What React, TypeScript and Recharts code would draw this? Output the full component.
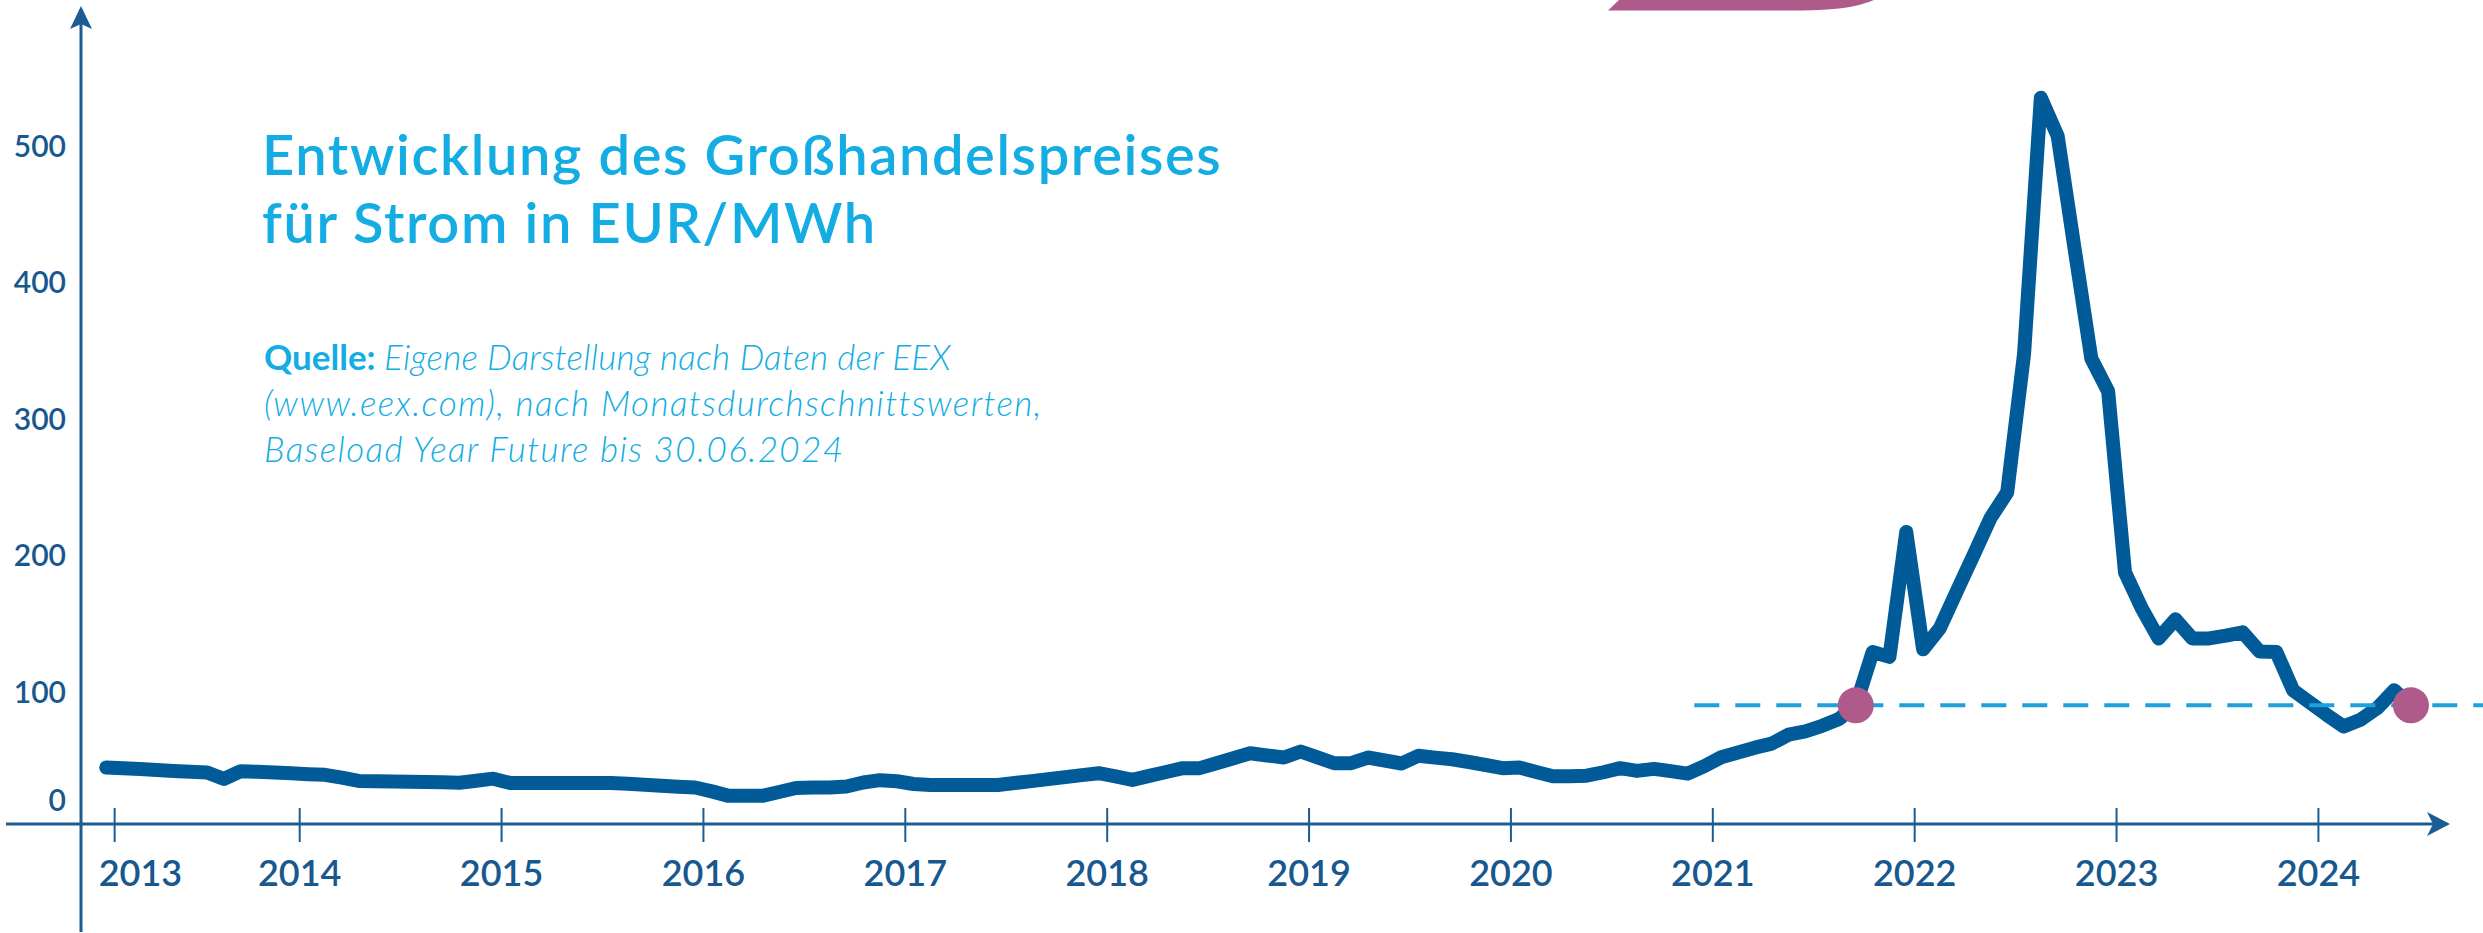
import React from "react";
import { LineChart, Line, XAxis, YAxis, ReferenceLine, ReferenceDot } from "recharts";

// Baseload Year Future, Monatsdurchschnitte in EUR/MWh (Jan 2013 – Jun 2024)
const prices2013 = [44.5, 43.9, 43.3, 42.6, 42.0, 41.4, 40.8, 36.1, 41.8, 41.3, 40.8, 40.3];
const prices2014 = [39.6, 39.1, 37.0, 34.6, 34.4, 34.2, 34.0, 33.8, 33.6, 33.3, 34.8, 36.3];
const prices2015 = [33.2, 33.2, 33.2, 33.2, 33.2, 33.2, 33.2, 32.5, 31.8, 31.1, 30.4, 29.8];
const prices2016 = [27.0, 23.7, 23.7, 23.7, 26.5, 29.5, 29.8, 29.8, 30.6, 33.5, 35.2, 34.4];
const prices2017 = [32.4, 31.7, 31.7, 31.7, 31.7, 31.7, 33.1, 34.5, 36.0, 37.4, 38.9, 40.3];
const prices2018 = [38.0, 35.4, 38.3, 41.2, 44.0, 44.0, 47.6, 51.3, 54.9, 53.3, 51.8, 56.2];
const prices2019 = [51.9, 47.6, 47.6, 51.8, 49.6, 47.4, 53.1, 51.7, 50.5, 48.5, 46.3, 44.0];
const prices2020 = [44.5, 41.2, 38.0, 38.0, 38.5, 41.0, 44.0, 42.0, 43.5, 41.8, 40.0, 45.5];
const prices2021 = [52.0, 55.5, 59.0, 62.0, 68.5, 71.0, 75.0, 80.0, 90.0, 129.0, 125.5, 217.0];
const prices2022 = [131.0, 146.5, 173.5, 200.0, 227.0, 246.0, 347.0, 535.0, 507.0, 425.0, 344.0, 320.0];
const prices2023 = [187.5, 161.0, 139.0, 153.0, 139.0, 139.0, 141.0, 143.5, 129.5, 129.0, 101.0, 92.0];
const prices2024 = [83.0, 74.5, 79.5, 88.0, 101.0, 90.0];

const prices = [
  ...prices2013, ...prices2014, ...prices2015, ...prices2016,
  ...prices2017, ...prices2018, ...prices2019, ...prices2020,
  ...prices2021, ...prices2022, ...prices2023, ...prices2024,
];

// x = Monate seit Jan 2013, Punkte jeweils in Monatsmitte
const rows = prices.map((price, i) => ({ m: i + 0.5, price }));

const yearLabels = ["2013", "2014", "2015", "2016", "2017", "2018", "2019", "2020", "2021", "2022", "2023", "2024"];
const yearTicks = [1, 12, 24, 36, 48, 60, 72, 84, 96, 108, 120, 132];
const valueTicks = [0, 100, 200, 300, 400, 500];

const markerIdx = [104, 137]; // Sep 2021, Jun 2024
const thresholdValue = 90;
const thresholdFrom = 94.9;
const thresholdTo = 141.8;

const W = 2483;
const H = 933;
const PLOT_LEFT = 81;
const AXIS_Y = 824;

const NAVY = "#005b98";
const AXIS = "#1b5d93";
const LABEL = "#17588e";
const CYAN = "#13ade3";
const DASH = "#1ea0da";
const PINK = "#ae5a8b";
const FONT = "Lato, 'Open Sans', sans-serif";

function YearTick(props: any) {
  const { x, payload } = props;
  const i = yearTicks.indexOf(payload.value);
  const first = i === 0;
  return (
    <g>
      <line x1={x} x2={x} y1={AXIS_Y - 16} y2={AXIS_Y + 18} stroke={AXIS} strokeWidth={2} />
      <text
        x={first ? x - 16 : x}
        y={886}
        textAnchor={first ? "start" : "middle"}
        fontFamily={FONT}
        fontWeight={600}
        fontSize={36}
        fill={LABEL}
      >
        {yearLabels[i]}
      </text>
    </g>
  );
}

function ValueTick(props: any) {
  const { y, payload } = props;
  const v = payload.value;
  return (
    <text
      x={PLOT_LEFT - 15}
      y={y + (v === 0 ? -28 : 0) + 11}
      textAnchor="end"
      fontFamily={FONT}
      fontWeight={600}
      fontSize={30}
      fill={LABEL}
    >
      {v}
    </text>
  );
}

export default function App() {
  return (
    <div style={{ position: "absolute", left: 0, top: 0, width: W, height: H, background: "#fff" }}>
      <LineChart width={W} height={H} data={rows} margin={{ top: 9, right: 30, bottom: 0, left: 0 }}>
        <XAxis
          type="number"
          dataKey="m"
          domain={[-1, 140]}
          ticks={yearTicks}
          interval={0}
          tick={(p: any) => <YearTick {...p} />}
          axisLine={false}
          tickLine={false}
          height={1}
          allowDataOverflow
        />
        <YAxis
          type="number"
          domain={[-76, 600]}
          ticks={valueTicks}
          interval={0}
          tick={(p: any) => <ValueTick {...p} />}
          width={PLOT_LEFT}
          axisLine={{ stroke: AXIS, strokeWidth: 3 }}
          tickLine={false}
          allowDataOverflow
        />
        <Line
          type="linear"
          dataKey="price"
          stroke={NAVY}
          strokeWidth={14}
          strokeLinejoin="round"
          strokeLinecap="round"
          dot={false}
          activeDot={false}
          isAnimationActive={false}
        />
        <ReferenceLine
          segment={[{ x: thresholdFrom, y: thresholdValue }, { x: thresholdTo, y: thresholdValue }]}
          stroke={DASH}
          strokeWidth={4}
          strokeDasharray="25 16"
          ifOverflow="visible"
        />
        {markerIdx.map((i) => (
          <ReferenceDot key={i} x={rows[i].m} y={prices[i]} r={18} fill={PINK} stroke="none" ifOverflow="visible" />
        ))}
      </LineChart>

      <svg width={W} height={H} style={{ position: "absolute", left: 0, top: 0, pointerEvents: "none" }}>
        {/* Zierelement oben */}
        <path d="M1619,0 L1608,10.5 L1800,10.5 Q1850,10.5 1874,0 Z" fill={PINK} />
        {/* x-Achse mit Pfeil */}
        <line x1={6} x2={2436} y1={AXIS_Y} y2={AXIS_Y} stroke={AXIS} strokeWidth={3} />
        <path d={`M2450,${AXIS_Y} L2427,${AXIS_Y - 12} L2433,${AXIS_Y} L2427,${AXIS_Y + 12} Z`} fill={AXIS} />
        {/* Pfeil der y-Achse */}
        <path d={`M${PLOT_LEFT},6 L${PLOT_LEFT + 11},29 L${PLOT_LEFT},24 L${PLOT_LEFT - 11},29 Z`} fill={AXIS} />

        <text fontFamily={FONT} fontWeight={600} fontSize={56} letterSpacing={1.6} fill={CYAN}>
          <tspan x={262} y={175}>Entwicklung des Großhandelspreises</tspan>
          <tspan x={262} y={243}>für Strom in EUR/MWh</tspan>
        </text>

        <text fontFamily={FONT} fontSize={35} fill={CYAN}>
          <tspan x={264} y={370} fontWeight={700}>Quelle: </tspan>
          <tspan fontStyle="italic" fontWeight={300} letterSpacing={0.2}>Eigene Darstellung nach Daten der EEX</tspan>
          <tspan x={264} y={416} fontStyle="italic" fontWeight={300} letterSpacing={1.4}>(www.eex.com), nach Monatsdurchschnittswerten,</tspan>
          <tspan x={264} y={462} fontStyle="italic" fontWeight={300} letterSpacing={1.4}>Baseload Year Future bis 30.06.2024</tspan>
        </text>
      </svg>
    </div>
  );
}
